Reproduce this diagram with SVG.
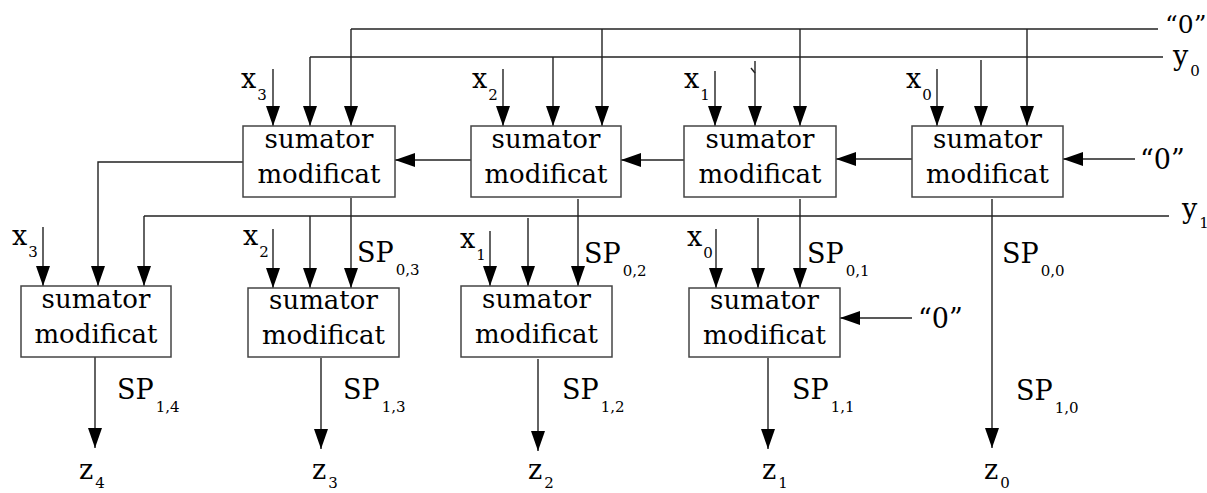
<svg xmlns="http://www.w3.org/2000/svg" width="1207" height="493" viewBox="0 0 1207 493">
  <defs>
    <marker id="arrow" markerUnits="userSpaceOnUse" markerWidth="20" markerHeight="14" refX="20" refY="7" orient="auto">
      <path d="M0,0 L20,7 L0,14 Z" fill="#000"/>
    </marker>
    <style>
      text { font-family: "DejaVu Serif", "Liberation Serif", serif; fill: #000; }
      .box rect { fill: #fff; stroke: #444; stroke-width: 1.5; }
      .box text { font-size: 26px; text-anchor: middle; }
      .lbl { font-size: 27px; }
      .sub { font-size: 15px; }
      .wire { fill: none; stroke: #222; stroke-width: 1.4; }
      .arr { marker-end: url(#arrow); }
    </style>
  </defs>
  <rect width="1207" height="493" fill="#fff"/>

  <!-- connectors -->
  <g id="connectors">
    <!-- "0" bus and its taps -->
    <path class="wire" d="M351,29 H1158"/>
    <path class="wire arr" d="M351,29 V126"/>
    <path class="wire arr" d="M602,29 V126"/>
    <path class="wire arr" d="M800,29 V126"/>
    <path class="wire arr" d="M1027,29 V126"/>
    <!-- y0 bus and its taps -->
    <path class="wire" d="M310,57 H1163"/>
    <path class="wire arr" d="M310,57 V126"/>
    <path class="wire arr" d="M553,57 V126"/>
    <path class="wire arr" d="M755,61 V126"/>
    <path class="wire" d="M751,68 L755,73"/>
    <path class="wire arr" d="M981,60 V126"/>
    <!-- x inputs, first row -->
    <path class="wire arr" d="M273,69 V126"/>
    <path class="wire arr" d="M503,69 V126"/>
    <path class="wire arr" d="M715,71 V126"/>
    <path class="wire arr" d="M937,69 V126"/>
    <!-- carry chain, first row -->
    <path class="wire arr" d="M1135,159 H1063"/>
    <path class="wire arr" d="M912,159 H836"/>
    <path class="wire arr" d="M684,160 H621"/>
    <path class="wire arr" d="M471,160 H395"/>
    <path class="wire arr" d="M243,162 H98 V286"/>
    <!-- y1 bus and its taps -->
    <path class="wire" d="M144,216 H1169"/>
    <path class="wire arr" d="M144,216 V286"/>
    <path class="wire arr" d="M310,216 V288"/>
    <path class="wire arr" d="M528,218 V286"/>
    <path class="wire arr" d="M758,218 V288"/>
    <!-- partial sums from first row -->
    <path class="wire arr" d="M351,198 V288"/>
    <path class="wire arr" d="M578,199 V286"/>
    <path class="wire arr" d="M800,199 V288"/>
    <path class="wire arr" d="M992,199 V448"/>
    <!-- x inputs, second row -->
    <path class="wire arr" d="M43,227 V286"/>
    <path class="wire arr" d="M273,229 V288"/>
    <path class="wire arr" d="M490,231 V286"/>
    <path class="wire arr" d="M716,229 V288"/>
    <path class="wire arr" d="M912,318 H840"/>
    <!-- outputs -->
    <path class="wire arr" d="M95,357 V448"/>
    <path class="wire arr" d="M321,358 V449"/>
    <path class="wire arr" d="M538,359 V451"/>
    <path class="wire arr" d="M768,358 V449"/>
  </g>

  <!-- first row of adders -->
  <g id="a3" class="box">
    <rect x="243" y="126" width="152" height="71"/>
    <text x="319" y="148">sumator</text>
    <text x="319" y="183">modificat</text>
  </g>
  <g id="a2" class="box">
    <rect x="471" y="126" width="150" height="71"/>
    <text x="546" y="148">sumator</text>
    <text x="546" y="183">modificat</text>
  </g>
  <g id="a1" class="box">
    <rect x="684" y="126" width="152" height="71"/>
    <text x="760" y="148">sumator</text>
    <text x="760" y="183">modificat</text>
  </g>
  <g id="a0" class="box">
    <rect x="912" y="126" width="151" height="71"/>
    <text x="987.5" y="148">sumator</text>
    <text x="987.5" y="183">modificat</text>
  </g>

  <!-- second row of adders -->
  <g id="b4" class="box">
    <rect x="21" y="286" width="150" height="71"/>
    <text x="96" y="308">sumator</text>
    <text x="96" y="343">modificat</text>
  </g>
  <g id="b3" class="box">
    <rect x="248" y="288" width="151" height="69"/>
    <text x="323.5" y="309">sumator</text>
    <text x="323.5" y="344">modificat</text>
  </g>
  <g id="b2" class="box">
    <rect x="461" y="286" width="151" height="71"/>
    <text x="536.5" y="308">sumator</text>
    <text x="536.5" y="343">modificat</text>
  </g>
  <g id="b1" class="box">
    <rect x="689" y="288" width="151" height="69"/>
    <text x="764.5" y="309">sumator</text>
    <text x="764.5" y="344">modificat</text>
  </g>

  <!-- signal labels -->
  <g id="labels" class="lbl">
    <text x="1165" y="33" style="font-size:25px">&#8220;0&#8221;</text>
    <text x="1173" y="65">y<tspan class="sub" dx="2" dy="11">0</tspan></text>
    <text x="1182" y="218">y<tspan class="sub" dx="2" dy="10">1</tspan></text>
    <text x="1140" y="169">&#8220;0&#8221;</text>
    <text x="918" y="328">&#8220;0&#8221;</text>

    <text x="241" y="88">x<tspan class="sub" dx="1" dy="12">3</tspan></text>
    <text x="472" y="88">x<tspan class="sub" dx="1" dy="12">2</tspan></text>
    <text x="684" y="88">x<tspan class="sub" dx="1" dy="12">1</tspan></text>
    <text x="906" y="88">x<tspan class="sub" dx="1" dy="12">0</tspan></text>

    <text x="12" y="245">x<tspan class="sub" dx="1" dy="12">3</tspan></text>
    <text x="243" y="245">x<tspan class="sub" dx="1" dy="12">2</tspan></text>
    <text x="460" y="248">x<tspan class="sub" dx="1" dy="12">1</tspan></text>
    <text x="687" y="246">x<tspan class="sub" dx="1" dy="12">0</tspan></text>

    <text x="357" y="262">SP<tspan class="sub" dx="2" dy="13">0,3</tspan></text>
    <text x="584" y="263">SP<tspan class="sub" dx="2" dy="13">0,2</tspan></text>
    <text x="807" y="263">SP<tspan class="sub" dx="2" dy="13">0,1</tspan></text>
    <text x="1002" y="263">SP<tspan class="sub" dx="2" dy="13">0,0</tspan></text>

    <text x="117" y="399">SP<tspan class="sub" dx="2" dy="13">1,4</tspan></text>
    <text x="343" y="399">SP<tspan class="sub" dx="2" dy="13">1,3</tspan></text>
    <text x="562" y="399">SP<tspan class="sub" dx="2" dy="13">1,2</tspan></text>
    <text x="792" y="399">SP<tspan class="sub" dx="2" dy="13">1,1</tspan></text>
    <text x="1016" y="400">SP<tspan class="sub" dx="2" dy="13">1,0</tspan></text>

    <text x="79" y="479">z<tspan class="sub" dx="2" dy="9">4</tspan></text>
    <text x="312" y="479">z<tspan class="sub" dx="2" dy="9">3</tspan></text>
    <text x="528" y="479">z<tspan class="sub" dx="2" dy="9">2</tspan></text>
    <text x="762" y="479">z<tspan class="sub" dx="2" dy="9">1</tspan></text>
    <text x="984" y="479">z<tspan class="sub" dx="2" dy="9">0</tspan></text>
  </g>
</svg>
